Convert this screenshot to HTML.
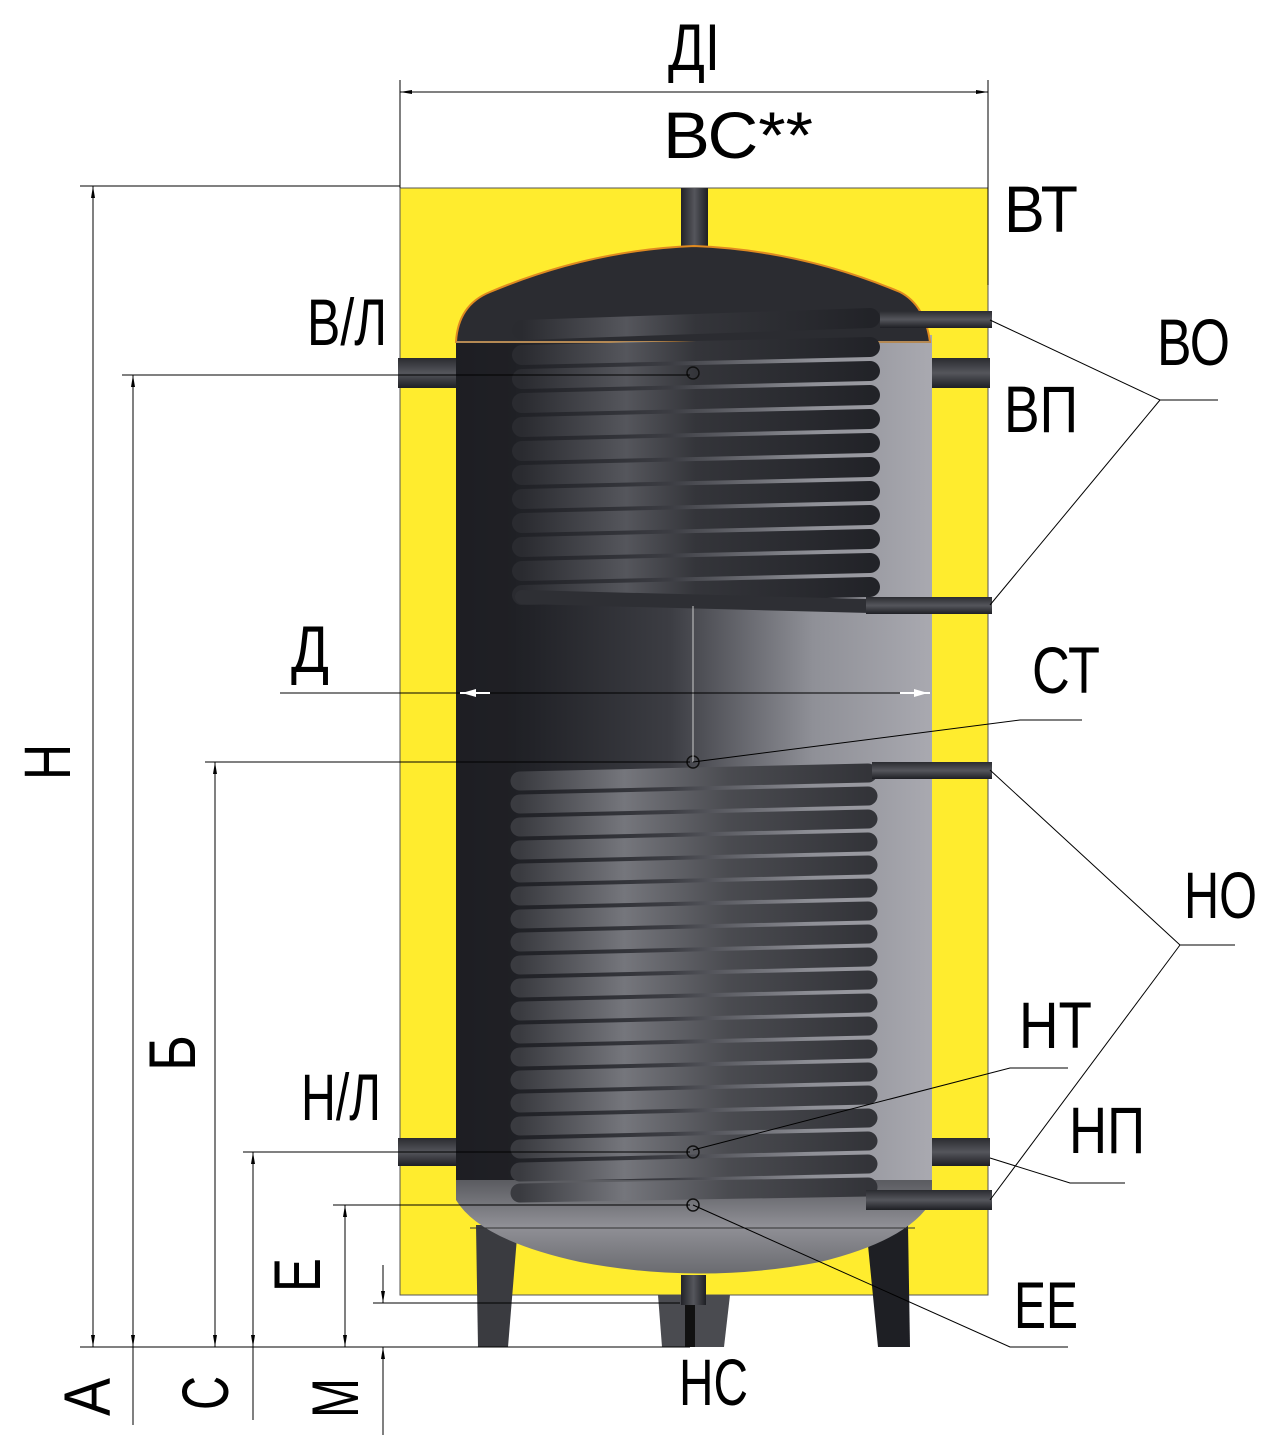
<!DOCTYPE html>
<html><head><meta charset="utf-8"><style>
html,body{margin:0;padding:0;background:#fff;}
svg{display:block;}
text{font-family:"Liberation Sans Narrow","Liberation Sans",sans-serif;fill:#000;}
</style></head><body>
<svg width="1264" height="1438" viewBox="0 0 1264 1438" xmlns="http://www.w3.org/2000/svg">
<defs>
<linearGradient id="body" x1="0" x2="1" y1="0" y2="0">
<stop offset="0" stop-color="#1b1c21"/><stop offset="0.15" stop-color="#212227"/>
<stop offset="0.45" stop-color="#3c3d43"/><stop offset="0.75" stop-color="#8f9097"/>
<stop offset="1" stop-color="#a9a9b0"/></linearGradient>
<linearGradient id="bot" x1="0" x2="0" y1="0" y2="1">
<stop offset="0" stop-color="#5a5b60"/><stop offset="0.5" stop-color="#909096"/><stop offset="1" stop-color="#6a6b70"/></linearGradient>
<linearGradient id="tube" x1="0" x2="1" y1="0" y2="0">
<stop offset="0" stop-color="#2a2b30"/><stop offset="0.3" stop-color="#55565c"/>
<stop offset="0.5" stop-color="#34353a"/><stop offset="1" stop-color="#222328"/></linearGradient>
<linearGradient id="tubeL" x1="0" x2="1" y1="0" y2="0">
<stop offset="0" stop-color="#3a3b40"/><stop offset="0.3" stop-color="#75767c"/>
<stop offset="0.6" stop-color="#4a4b50"/><stop offset="1" stop-color="#333439"/></linearGradient>
<linearGradient id="pipeV" x1="0" x2="0" y1="0" y2="1">
<stop offset="0" stop-color="#2a2b30"/><stop offset="0.5" stop-color="#55565c"/><stop offset="1" stop-color="#1e1f24"/></linearGradient>
<linearGradient id="pipeH" x1="0" x2="1" y1="0" y2="0">
<stop offset="0" stop-color="#222328"/><stop offset="0.5" stop-color="#55565c"/><stop offset="1" stop-color="#1e1f24"/></linearGradient>
<marker id="ar" markerWidth="12" markerHeight="6" refX="12" refY="3" orient="auto-start-reverse" markerUnits="userSpaceOnUse"><path d="M0,1 L12,3 L0,5 z" fill="#000"/></marker>
</defs>

<rect x="400" y="188" width="588" height="1107" fill="#ffec2e" stroke="#555" stroke-width="1"/>

<path d="M476,1225 L518,1225 L508,1347 L478,1347 Z" fill="#3a3b40"/>
<path d="M866,1225 L908,1225 L910,1347 L878,1347 Z" fill="#1e1f24"/>
<path d="M658,1295 L730,1295 L724,1347 L662,1347 Z" fill="#4a4b50"/>
<rect x="685" y="1295" width="10" height="52" fill="#111"/>

<rect x="681" y="188" width="27" height="60" fill="url(#pipeH)"/>
<rect x="456" y="335" width="476" height="850" fill="url(#body)"/>
<rect x="456" y="335" width="60" height="850" fill="#1f2025" opacity="0.6"/>
<path d="M456,342 Q458,305 490,292 Q590,250 694,246 Q800,250 900,292 Q925,305 930,342 Z" fill="#2b2c31" stroke="#e08a20" stroke-width="2"/>
<line x1="456" y1="342" x2="930" y2="342" stroke="#888" stroke-width="1"/>
<path d="M456,1180 L932,1180 L932,1200 Q910,1240 820,1262 Q700,1285 580,1262 Q480,1240 456,1200 Z" fill="url(#bot)"/>
<line x1="470" y1="1228" x2="915" y2="1228" stroke="#333" stroke-width="1"/>
<rect x="681" y="1275" width="25" height="30" fill="url(#pipeH)"/>

<rect x="398" y="358" width="58" height="30" fill="url(#pipeV)"/>
<rect x="932" y="358" width="58" height="30" fill="url(#pipeV)"/>
<rect x="398" y="1138" width="58" height="28" fill="url(#pipeV)"/>
<rect x="932" y="1138" width="58" height="28" fill="url(#pipeV)"/>

<g stroke-linecap="round" fill="none">
<line x1="522" y1="330" x2="870" y2="318" stroke="url(#tube)" stroke-width="20"/>
<line x1="522" y1="355" x2="870" y2="347" stroke="url(#tube)" stroke-width="20"/>
<line x1="522" y1="379" x2="870" y2="371" stroke="url(#tube)" stroke-width="20"/>
<line x1="522" y1="403" x2="870" y2="395" stroke="url(#tube)" stroke-width="20"/>
<line x1="522" y1="427" x2="870" y2="419" stroke="url(#tube)" stroke-width="20"/>
<line x1="522" y1="451" x2="870" y2="443" stroke="url(#tube)" stroke-width="20"/>
<line x1="522" y1="475" x2="870" y2="467" stroke="url(#tube)" stroke-width="20"/>
<line x1="522" y1="499" x2="870" y2="491" stroke="url(#tube)" stroke-width="20"/>
<line x1="522" y1="523" x2="870" y2="515" stroke="url(#tube)" stroke-width="20"/>
<line x1="522" y1="547" x2="870" y2="539" stroke="url(#tube)" stroke-width="20"/>
<line x1="522" y1="571" x2="870" y2="563" stroke="url(#tube)" stroke-width="20"/>
<line x1="522" y1="595" x2="870" y2="587" stroke="url(#tube)" stroke-width="20"/>
<line x1="522" y1="597" x2="870" y2="606" stroke="#2e2f34" stroke-width="14"/>
</g>
<g stroke-linecap="round" fill="none" stroke="url(#tubeL)" stroke-width="19">
<line x1="520" y1="781" x2="868" y2="773"/>
<line x1="520" y1="804" x2="868" y2="796"/>
<line x1="520" y1="827" x2="868" y2="819"/>
<line x1="520" y1="850" x2="868" y2="842"/>
<line x1="520" y1="873" x2="868" y2="865"/>
<line x1="520" y1="896" x2="868" y2="888"/>
<line x1="520" y1="919" x2="868" y2="911"/>
<line x1="520" y1="942" x2="868" y2="934"/>
<line x1="520" y1="965" x2="868" y2="957"/>
<line x1="520" y1="988" x2="868" y2="980"/>
<line x1="520" y1="1011" x2="868" y2="1003"/>
<line x1="520" y1="1034" x2="868" y2="1026"/>
<line x1="520" y1="1057" x2="868" y2="1049"/>
<line x1="520" y1="1080" x2="868" y2="1072"/>
<line x1="520" y1="1103" x2="868" y2="1095"/>
<line x1="520" y1="1126" x2="868" y2="1118"/>
<line x1="520" y1="1149" x2="868" y2="1141"/>
<line x1="520" y1="1172" x2="868" y2="1164"/>
<line x1="520" y1="1193" x2="868" y2="1187"/>
</g>
<rect x="880" y="311" width="112" height="17" fill="url(#pipeV)"/>
<rect x="866" y="597" width="126" height="17" fill="url(#pipeV)"/>
<rect x="872" y="762" width="120" height="17" fill="url(#pipeV)"/>
<rect x="866" y="1190" width="126" height="20" fill="url(#pipeV)"/>
<g fill="none" stroke="#111" stroke-width="1.5">
<circle cx="693" cy="373" r="6"/><circle cx="693" cy="762" r="6"/>
<circle cx="693" cy="1152" r="6"/><circle cx="693" cy="1205" r="6"/></g>
<line x1="693" y1="606" x2="693" y2="762" stroke="#ccc" stroke-width="1"/>

<g stroke="#000" stroke-width="1" fill="none">
<line x1="400" y1="80" x2="400" y2="188"/>
<line x1="988" y1="80" x2="988" y2="285"/>
<line x1="400" y1="92" x2="988" y2="92" marker-start="url(#ar)" marker-end="url(#ar)"/>
<line x1="80" y1="186" x2="400" y2="186"/>
<line x1="80" y1="1347" x2="690" y2="1347"/>
<line x1="93" y1="186" x2="93" y2="1347" marker-start="url(#ar)" marker-end="url(#ar)"/>
<line x1="122" y1="375" x2="690" y2="375"/>
<line x1="133" y1="375" x2="133" y2="1347" marker-start="url(#ar)" marker-end="url(#ar)"/>
<line x1="133" y1="1347" x2="133" y2="1425"/>
<line x1="205" y1="762" x2="690" y2="762"/>
<line x1="215" y1="762" x2="215" y2="1347" marker-start="url(#ar)" marker-end="url(#ar)"/>
<line x1="243" y1="1152" x2="690" y2="1152"/>
<line x1="253" y1="1152" x2="253" y2="1347" marker-start="url(#ar)" marker-end="url(#ar)"/>
<line x1="253" y1="1347" x2="253" y2="1420"/>
<line x1="333" y1="1205" x2="690" y2="1205"/>
<line x1="345" y1="1205" x2="345" y2="1347" marker-start="url(#ar)" marker-end="url(#ar)"/>
<line x1="373" y1="1303" x2="680" y2="1303"/>
<line x1="383" y1="1265" x2="383" y2="1303" marker-end="url(#ar)"/>
<line x1="383" y1="1390" x2="383" y2="1347" marker-end="url(#ar)"/>
<line x1="383" y1="1347" x2="383" y2="1435"/>
<line x1="280" y1="693" x2="930" y2="693"/>
<line x1="460" y1="693" x2="490" y2="693" stroke="#fff" stroke-width="2"/>
<line x1="900" y1="693" x2="930" y2="693" stroke="#fff" stroke-width="2"/>
<polyline points="990,320 1160,400 1218,400"/>
<line x1="990" y1="605" x2="1160" y2="400"/>
<polyline points="990,770 1180,945 1235,945"/>
<line x1="990" y1="1200" x2="1180" y2="945"/>
<polyline points="693,762 1020,720 1082,720"/>
<polyline points="693,1150 1010,1068 1068,1068"/>
<polyline points="990,1158 1070,1183 1125,1183"/>
<polyline points="693,1205 1010,1347 1068,1347"/>
</g>
<path d="M462,693 l14,-4 v8z M928,693 l-14,-4 v8z" fill="#fff"/>

<g font-size="66">
<text x="694" y="70" text-anchor="middle" textLength="52" lengthAdjust="spacingAndGlyphs">ДІ</text>
<text x="663" y="158" textLength="150" lengthAdjust="spacingAndGlyphs">ВС**</text>
<text x="1004" y="232" textLength="74" lengthAdjust="spacingAndGlyphs">ВТ</text>
<text x="307" y="345" textLength="80" lengthAdjust="spacingAndGlyphs">В/Л</text>
<text x="1157" y="365" textLength="73" lengthAdjust="spacingAndGlyphs">ВО</text>
<text x="1004" y="432" textLength="74" lengthAdjust="spacingAndGlyphs">ВП</text>
<text x="291" y="672" textLength="38" lengthAdjust="spacingAndGlyphs">Д</text>
<text x="1032" y="693" textLength="68" lengthAdjust="spacingAndGlyphs">СТ</text>
<text x="1184" y="918" textLength="73" lengthAdjust="spacingAndGlyphs">НО</text>
<text x="1019" y="1048" textLength="73" lengthAdjust="spacingAndGlyphs">НТ</text>
<text x="301" y="1120" textLength="80" lengthAdjust="spacingAndGlyphs">Н/Л</text>
<text x="1069" y="1153" textLength="76" lengthAdjust="spacingAndGlyphs">НП</text>
<text x="1014" y="1328" textLength="64" lengthAdjust="spacingAndGlyphs">ЕЕ</text>
<text x="679" y="1405" textLength="69" lengthAdjust="spacingAndGlyphs">НС</text>
<text transform="translate(70,780) rotate(-90)" textLength="36" lengthAdjust="spacingAndGlyphs">Н</text>
<text transform="translate(195,1071) rotate(-90)" textLength="36" lengthAdjust="spacingAndGlyphs">Б</text>
<text transform="translate(320,1292) rotate(-90)" textLength="34" lengthAdjust="spacingAndGlyphs">Е</text>
<text transform="translate(110,1416) rotate(-90)" textLength="38" lengthAdjust="spacingAndGlyphs">А</text>
<text transform="translate(228,1410) rotate(-90)" textLength="34" lengthAdjust="spacingAndGlyphs">С</text>
<text transform="translate(358,1418) rotate(-90)" textLength="40" lengthAdjust="spacingAndGlyphs">М</text>
</g>
</svg>
</body></html>
